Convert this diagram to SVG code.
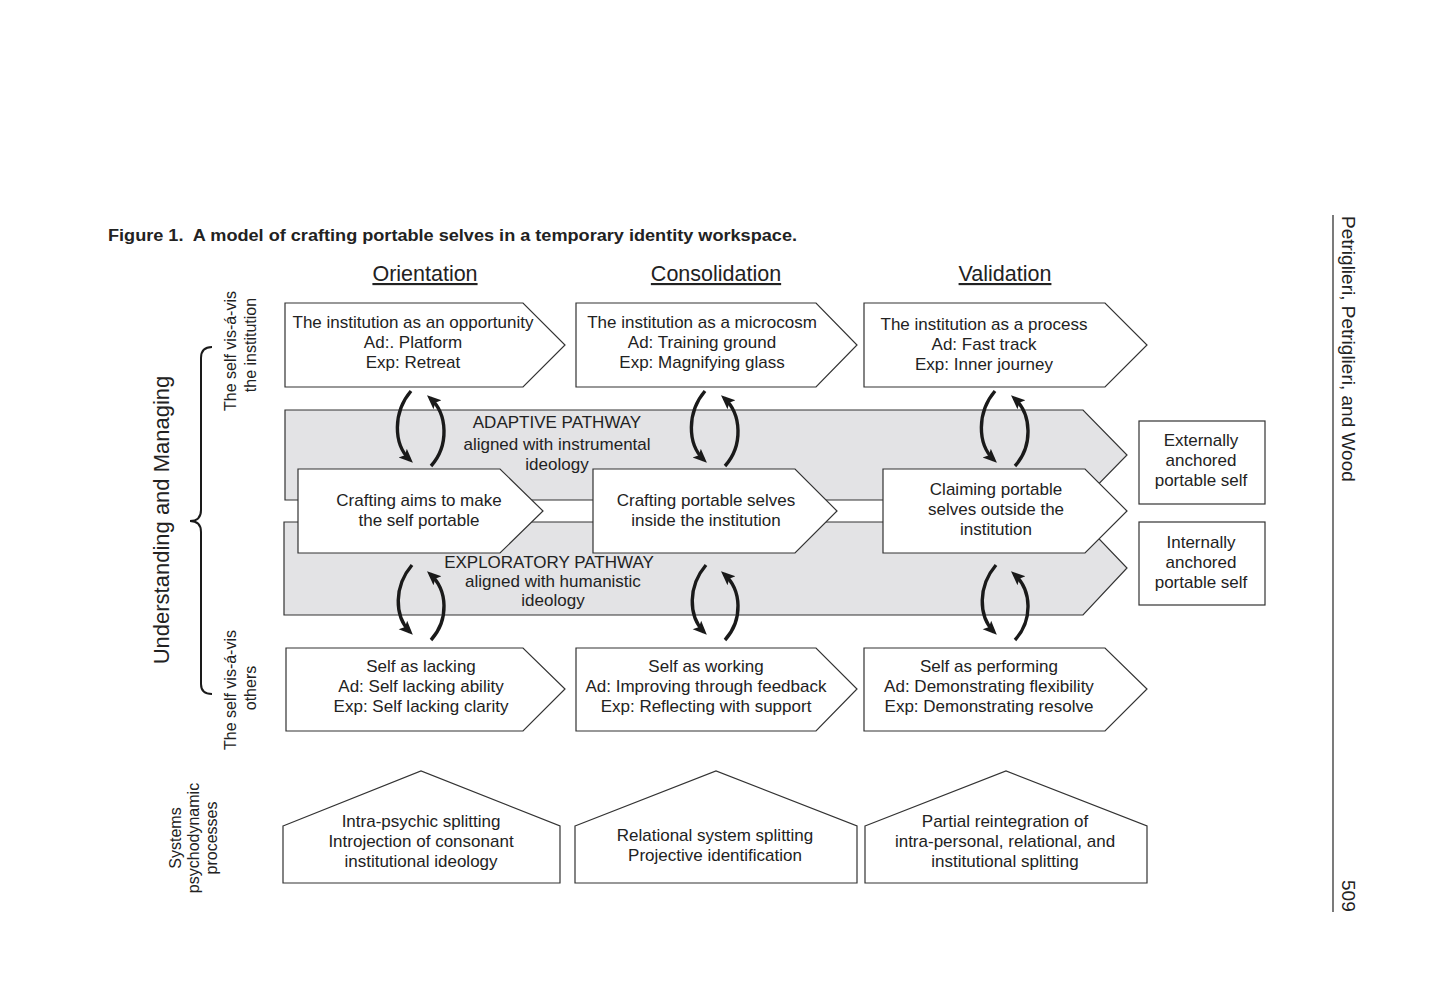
<svg xmlns="http://www.w3.org/2000/svg" width="1440" height="1008" viewBox="0 0 1440 1008">
<style>
  text { font-family: "Liberation Sans", Arial, sans-serif; fill: #222; }
  .t { font-size: 17px; text-anchor: middle; }
  .r { font-size: 16px; text-anchor: middle; }
  .h { font-size: 21.5px; text-anchor: middle; text-decoration: underline; }
  .box { fill: #fff; stroke: #333; stroke-width: 1.2; }
  .band { fill: #e3e3e5; stroke: #333; stroke-width: 1.2; }
  .arc { fill: none; stroke: #1a1a1a; stroke-width: 3.4; stroke-linecap: butt; }
</style>
<defs>
  <marker id="ah" markerUnits="userSpaceOnUse" markerWidth="16" markerHeight="16" viewBox="0 0 16 16" refX="10" refY="8" orient="auto">
    <path d="M0,2 L14,8 L0,14 L3,8 Z" fill="#1a1a1a"/>
  </marker>
</defs>
<rect width="1440" height="1008" fill="#fff"/>

<text x="108" y="241" xml:space="preserve" style="font-size:16px;font-weight:bold;" textLength="689" lengthAdjust="spacingAndGlyphs">Figure 1.  A model of crafting portable selves in a temporary identity workspace.</text>

<text class="h" x="425" y="281">Orientation</text>
<text class="h" x="716" y="281">Consolidation</text>
<text class="h" x="1005" y="281">Validation</text>

<!-- left labels -->
<text style="font-size:22px;text-anchor:middle" transform="translate(169,520) rotate(-90)">Understanding and Managing</text>
<path d="M212,347 Q201,347 201,358 L201,510 Q201,521 190,521 Q201,521 201,532 L201,684 Q201,694 212,694" fill="none" stroke="#1a1a1a" stroke-width="2"/>
<text class="r" transform="translate(236,351) rotate(-90)">The self vis-á-vis</text>
<text class="r" transform="translate(256,345) rotate(-90)">the institution</text>
<text class="r" transform="translate(236,690) rotate(-90)">The self vis-á-vis</text>
<text class="r" transform="translate(256,688) rotate(-90)">others</text>
<text class="r" transform="translate(181,838) rotate(-90)">Systems</text>
<text class="r" transform="translate(199,838) rotate(-90)">psychodynamic</text>
<text class="r" transform="translate(217,838) rotate(-90)">processes</text>

<!-- right margin -->
<line x1="1333" y1="215" x2="1333" y2="912" stroke="#222" stroke-width="1.2"/>
<text style="font-size:19px" transform="translate(1342,216) rotate(90)">Petriglieri, Petriglieri, and Wood</text>
<text style="font-size:19px" transform="translate(1342,880) rotate(90)">509</text>

<!-- bands -->
<g id="adaptive-pathway">
  <path class="band" d="M285,410 L1083,410 L1127,455 L1083,500 L285,500 Z"/>
  <text class="t" x="557" y="428">ADAPTIVE PATHWAY</text>
  <text class="t" x="557" y="450">aligned with instrumental</text>
  <text class="t" x="557" y="470">ideology</text>
</g>
<g id="exploratory-pathway">
  <path class="band" d="M284,522 L1083,522 L1127,568 L1083,615 L284,615 Z"/>
  <text class="t" x="549" y="568">EXPLORATORY PATHWAY</text>
  <text class="t" x="553" y="587">aligned with humanistic</text>
  <text class="t" x="553" y="606">ideology</text>
</g>

<!-- top row -->
<g id="inst-opportunity">
  <path class="box" d="M285,303 L523,303 L565,345 L523,387 L285,387 Z"/>
  <text class="t" x="413" y="328">The institution as an opportunity</text>
  <text class="t" x="413" y="348">Ad:. Platform</text>
  <text class="t" x="413" y="368">Exp: Retreat</text>
</g>
<g id="inst-microcosm">
  <path class="box" d="M576,303 L816,303 L857,345 L816,387 L576,387 Z"/>
  <text class="t" x="702" y="328">The institution as a microcosm</text>
  <text class="t" x="702" y="348">Ad: Training ground</text>
  <text class="t" x="702" y="368">Exp: Magnifying glass</text>
</g>
<g id="inst-process">
  <path class="box" d="M864,303 L1105,303 L1147,345 L1105,387 L864,387 Z"/>
  <text class="t" x="984" y="330">The institution as a process</text>
  <text class="t" x="984" y="350">Ad: Fast track</text>
  <text class="t" x="984" y="370">Exp: Inner journey</text>
</g>

<!-- middle row -->
<g id="crafting-aims">
  <path class="box" d="M298,469 L500,469 L543,511 L500,553 L298,553 Z"/>
  <text class="t" x="419" y="506">Crafting aims to make</text>
  <text class="t" x="419" y="526">the self portable</text>
</g>
<g id="crafting-inside">
  <path class="box" d="M593,469 L795,469 L837,511 L795,553 L593,553 Z"/>
  <text class="t" x="706" y="506">Crafting portable selves</text>
  <text class="t" x="706" y="526">inside the institution</text>
</g>
<g id="claiming-outside">
  <path class="box" d="M883,469 L1085,469 L1127,511 L1085,553 L883,553 Z"/>
  <text class="t" x="996" y="495">Claiming portable</text>
  <text class="t" x="996" y="515">selves outside the</text>
  <text class="t" x="996" y="535">institution</text>
</g>

<g id="externally-anchored">
  <rect class="box" x="1139" y="421" width="126" height="83"/>
  <text class="t" x="1201" y="446">Externally</text>
  <text class="t" x="1201" y="466">anchored</text>
  <text class="t" x="1201" y="486">portable self</text>
</g>
<g id="internally-anchored">
  <rect class="box" x="1139" y="522" width="126" height="83"/>
  <text class="t" x="1201" y="548">Internally</text>
  <text class="t" x="1201" y="568">anchored</text>
  <text class="t" x="1201" y="588">portable self</text>
</g>

<!-- bottom row -->
<g id="self-lacking">
  <path class="box" d="M286,648 L523,648 L565,689 L523,731 L286,731 Z"/>
  <text class="t" x="421" y="672">Self as lacking</text>
  <text class="t" x="421" y="692">Ad: Self lacking ability</text>
  <text class="t" x="421" y="712">Exp: Self lacking clarity</text>
</g>
<g id="self-working">
  <path class="box" d="M576,648 L816,648 L857,689 L816,731 L576,731 Z"/>
  <text class="t" x="706" y="672">Self as working</text>
  <text class="t" x="706" y="692">Ad: Improving through feedback</text>
  <text class="t" x="706" y="712">Exp: Reflecting with support</text>
</g>
<g id="self-performing">
  <path class="box" d="M864,648 L1105,648 L1147,689 L1105,731 L864,731 Z"/>
  <text class="t" x="989" y="672">Self as performing</text>
  <text class="t" x="989" y="692">Ad: Demonstrating flexibility</text>
  <text class="t" x="989" y="712">Exp: Demonstrating resolve</text>
</g>

<!-- houses -->
<g id="intra-psychic">
  <path class="box" d="M283,826 L421,771 L560,826 L560,883 L283,883 Z"/>
  <text class="t" x="421" y="827">Intra-psychic splitting</text>
  <text class="t" x="421" y="847">Introjection of consonant</text>
  <text class="t" x="421" y="867">institutional ideology</text>
</g>
<g id="relational-splitting">
  <path class="box" d="M575,826 L716,771 L857,826 L857,883 L575,883 Z"/>
  <text class="t" x="715" y="841">Relational system splitting</text>
  <text class="t" x="715" y="861">Projective identification</text>
</g>
<g id="partial-reintegration">
  <path class="box" d="M865,826 L1006,771 L1147,826 L1147,883 L865,883 Z"/>
  <text class="t" x="1005" y="827">Partial reintegration of</text>
  <text class="t" x="1005" y="847">intra-personal, relational, and</text>
  <text class="t" x="1005" y="867">institutional splitting</text>
</g>

<!-- connectors -->
<g id="connectors">
  <g id="arrows-col1">
    <path class="arc" d="M411,391 C393,412 393,444 410,460" marker-end="url(#ah)"/>
    <path class="arc" d="M431,466 C449,446 448,414 430,398" marker-end="url(#ah)"/>
    <path class="arc" d="M412,565 C394,586 394,616 410,632" marker-end="url(#ah)"/>
    <path class="arc" d="M431,640 C449,620 448,590 430,574" marker-end="url(#ah)"/>
  </g>
  <g id="arrows-col2" transform="translate(294,0)">
    <path class="arc" d="M411,391 C393,412 393,444 410,460" marker-end="url(#ah)"/>
    <path class="arc" d="M431,466 C449,446 448,414 430,398" marker-end="url(#ah)"/>
    <path class="arc" d="M412,565 C394,586 394,616 410,632" marker-end="url(#ah)"/>
    <path class="arc" d="M431,640 C449,620 448,590 430,574" marker-end="url(#ah)"/>
  </g>
  <g id="arrows-col3" transform="translate(584,0)">
    <path class="arc" d="M411,391 C393,412 393,444 410,460" marker-end="url(#ah)"/>
    <path class="arc" d="M431,466 C449,446 448,414 430,398" marker-end="url(#ah)"/>
    <path class="arc" d="M412,565 C394,586 394,616 410,632" marker-end="url(#ah)"/>
    <path class="arc" d="M431,640 C449,620 448,590 430,574" marker-end="url(#ah)"/>
  </g>
</g>
</svg>
